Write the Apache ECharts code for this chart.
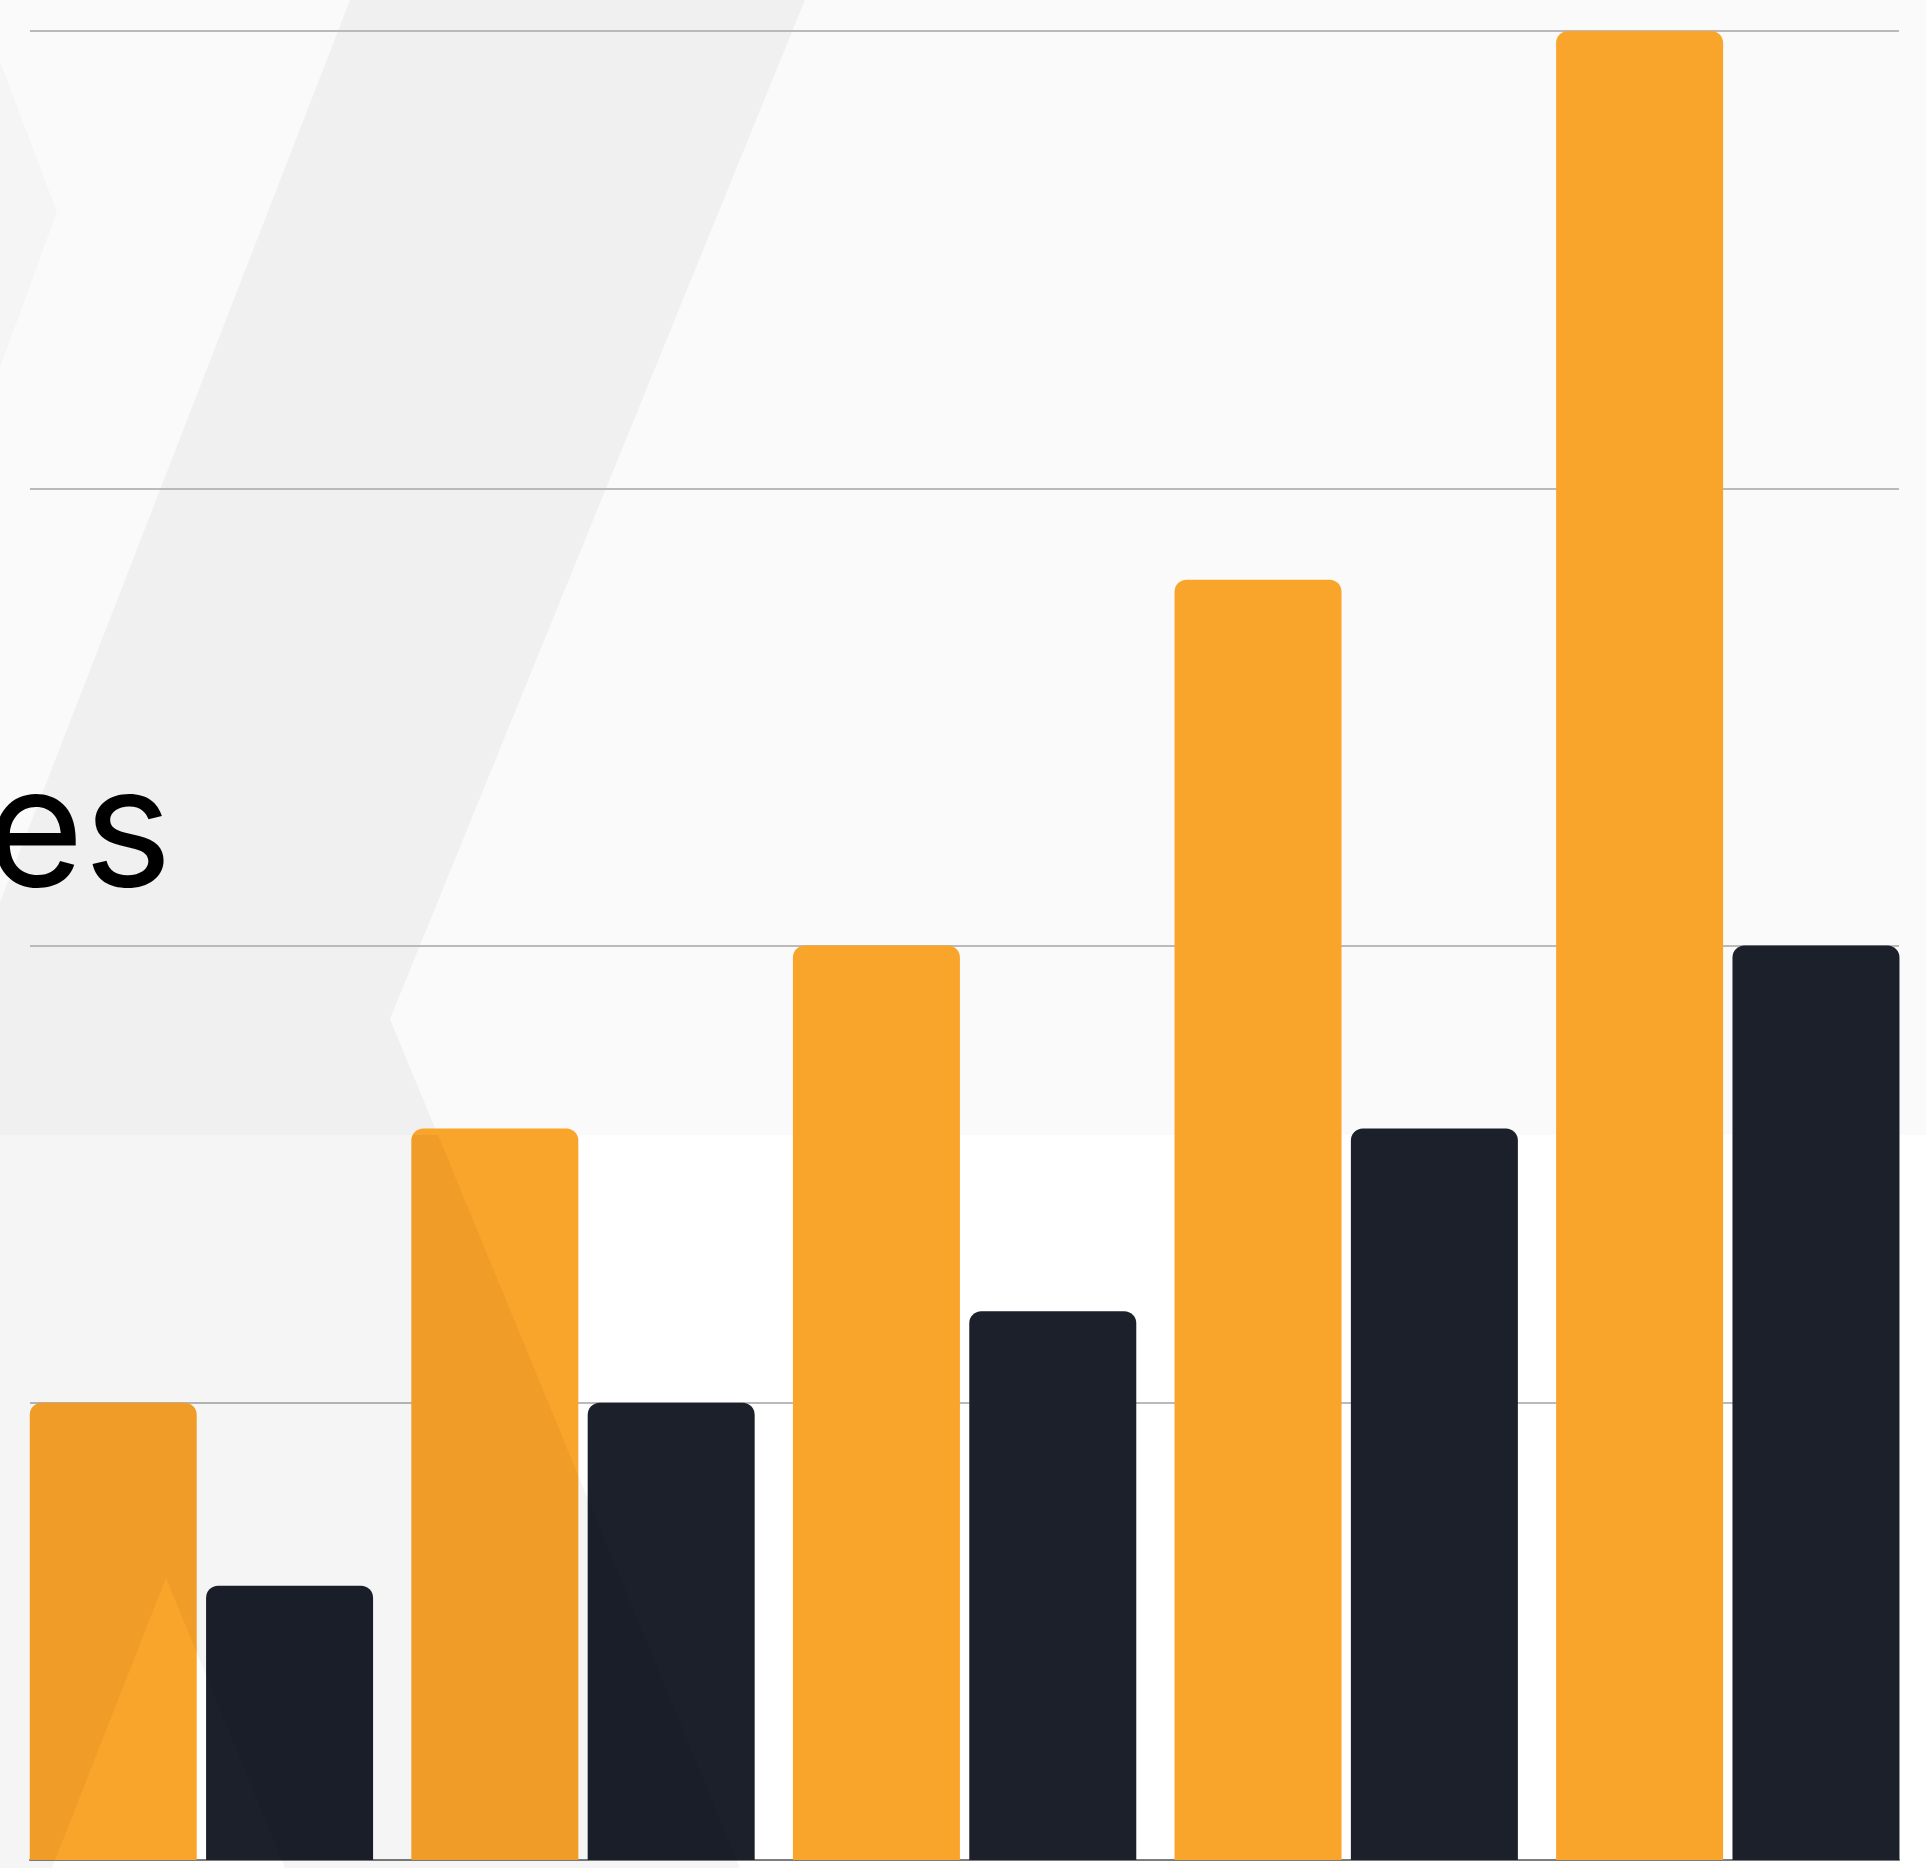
<!DOCTYPE html>
<html>
<head>
<meta charset="utf-8">
<script src="https://cdn.jsdelivr.net/npm/echarts@6/dist/echarts.min.js"></script>
<style>
html,body{margin:0;padding:0;background:#ffffff;}
#chart{width:1926px;height:1868px;}
</style>
</head>
<body>
<div id="chart"></div>
<script>
// ---- data ----
const categories = ['Cat 1', 'Cat 2', 'Cat 3', 'Cat 4', 'Cat 5'];
const seriesOrange = [1.0, 1.6, 2.0, 2.8, 4.0];
const seriesDark = [0.6, 1.0, 1.2, 1.6, 2.0];
const yTicks = [0, 1, 2, 3, 4];
const titleText = 'es';

// ---- style ----
const ORANGE = '#F9A42A';
const DARK = '#1C202B';
const W = 1926, H = 1868;

const chart = echarts.init(document.getElementById('chart'), null, {renderer: 'canvas', width: W, height: H});

const yMin = yTicks[0], yMax = yTicks[yTicks.length - 1], yStep = yTicks[1] - yTicks[0];

const option = {
  backgroundColor: '#ffffff',
  animation: false,
  grid: [
    {left: 30, right: 27, top: 31, bottom: 8, containLabel: false},
    {left: 10.6, right: 7.4, top: 31, bottom: 8, containLabel: false}
  ],
  xAxis: [
    {gridIndex: 0, type: 'value', min: 0, max: 1, show: true,
     axisLine: {show: true, lineStyle: {color: '#7c7c7c', width: 2}},
     axisTick: {show: false}, axisLabel: {show: false}, splitLine: {show: false}},
    {gridIndex: 1, type: 'category', data: categories,
     axisLine: {show: false}, axisTick: {show: false}, axisLabel: {show: false}, splitLine: {show: false}}
  ],
  yAxis: [
    {gridIndex: 0, type: 'value', min: yMin, max: yMax, interval: yStep,
     axisLine: {show: false}, axisTick: {show: false}, axisLabel: {show: false},
     splitLine: {show: true, lineStyle: {color: '#bababa', width: 2}}},
    {gridIndex: 1, type: 'value', min: yMin, max: yMax, interval: yStep,
     axisLine: {show: false}, axisTick: {show: false}, axisLabel: {show: false},
     splitLine: {show: false}}
  ],
  series: [
    {type: 'bar', name: 'Series 1', xAxisIndex: 1, yAxisIndex: 1, data: seriesOrange,
     barWidth: 167, barGap: '5.6%',
     itemStyle: {color: ORANGE, borderRadius: [12, 12, 0, 0]}, z: 3},
    {type: 'bar', name: 'Series 2', xAxisIndex: 1, yAxisIndex: 1, data: seriesDark,
     barWidth: 167, barGap: '5.6%',
     itemStyle: {color: DARK, borderRadius: [12, 12, 0, 0]}, z: 3}
  ],
  graphic: [
    // upper background panel
    {type: 'rect', silent: true, z: -20, shape: {x: 0, y: 0, width: W, height: 1135}, style: {fill: '#FAFAFA'}},
    // decorative chevron band (upper part)
    {type: 'polygon', silent: true, z: -15,
     shape: {points: [[350, 0], [805, 0], [390, 1019], [438, 1135], [0, 1135], [0, 902]]},
     style: {fill: 'rgba(0,0,0,0.04)'}},
    // small chevron tip top-left
    {type: 'polygon', silent: true, z: -15,
     shape: {points: [[0, 61], [57, 212], [0, 368]]},
     style: {fill: 'rgba(0,0,0,0.02)'}},
    // partial title text
    {type: 'text', silent: true, z: 10,
     style: {text: titleText, x: 172, y: 836, textAlign: 'right', textVerticalAlign: 'middle',
             font: '167px Inter', fill: '#000000', letterSpacing: -3}},
    // lower translucent overlay (over bars)
    {type: 'polygon', silent: true, z: 100,
     shape: {points: [[0, 1135], [438, 1135], [740, 1868], [285, 1868], [166, 1578], [52, 1868], [0, 1868]]},
     style: {fill: 'rgba(0,0,0,0.038)'}}
  ]
};
chart.setOption(option);
</script>
</body>
</html>
